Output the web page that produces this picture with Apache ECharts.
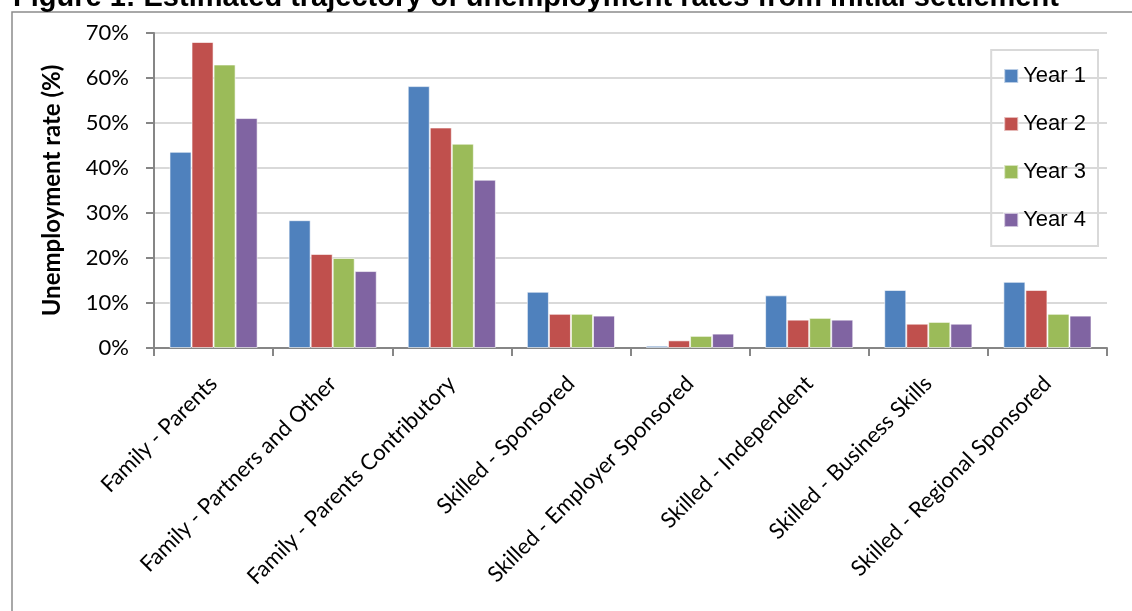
<!DOCTYPE html>
<html>
<head>
<meta charset="utf-8">
<script src="https://cdn.jsdelivr.net/npm/echarts@6/dist/echarts.min.js"></script>
<style>
html, body { margin: 0; padding: 0; background: #fff; }
#chart { width: 1132px; height: 611px; }
</style>
</head>
<body>
<div id="chart"></div>
<script>
// categories and values (%)
var categories = ['Family - Parents', 'Family - Partners and Other', 'Family - Parents Contributory',
  'Skilled - Sponsored', 'Skilled - Employer Sponsored', 'Skilled - Independent',
  'Skilled - Business Skills', 'Skilled - Regional Sponsored'];
var year1 = [43.6, 28.4, 58.2, 12.5, 0.5, 11.7, 12.9, 14.7];
var year2 = [68.0, 20.9, 49.0, 7.6, 1.7, 6.3, 5.4, 12.9];
var year3 = [63.0, 20.0, 45.4, 7.6, 2.7, 6.7, 5.8, 7.6];
var year4 = [51.1, 17.1, 37.4, 7.2, 3.2, 6.3, 5.4, 7.2];
var seriesNames = ['Year 1', 'Year 2', 'Year 3', 'Year 4'];
var colors = ['#4F81BD', '#C0504D', '#9BBB59', '#8064A2'];

var chart = echarts.init(document.getElementById('chart'));

var allData = [year1, year2, year3, year4];
var series = allData.map(function (d, i) {
  return {
    name: seriesNames[i],
    type: 'bar',
    data: d,
    barGap: '0%',
    barCategoryGap: '26%',
    itemStyle: { color: colors[i], borderColor: 'rgba(255,255,255,0.6)', borderWidth: 1 }
  };
});

var option = {
  animation: false,
  title: {
    text: 'Figure 1: Estimated trajectory of unemployment rates from initial settlement',
    left: 8,
    top: -22,
    textStyle: { fontFamily: 'Liberation Sans', fontWeight: 'bold', fontSize: 29, color: '#000' }
  },
  graphic: [{
    type: 'rect',
    shape: { x: 12, y: 12, width: 1200, height: 700 },
    style: { fill: 'none', stroke: '#8c8c8c', lineWidth: 1.5 },
    silent: true,
    z: -1
  }],
  legend: {
    orient: 'vertical',
    right: 34,
    top: 50,
    itemWidth: 14,
    itemHeight: 14,
    itemGap: 26,
    padding: [15, 12, 15, 12],
    borderColor: '#d9d9d9',
    borderWidth: 2,
    icon: 'rect',
    textStyle: { fontFamily: 'Liberation Sans', fontSize: 22, color: '#000' },
    data: seriesNames
  },
  grid: { left: 154, right: 25, top: 33, bottom: 263 },
  xAxis: {
    type: 'category',
    data: categories,
    axisLine: { lineStyle: { color: '#868686', width: 2 } },
    axisTick: { show: true, length: 8, lineStyle: { color: '#868686', width: 2 } },
    axisLabel: {
      rotate: 45,
      interval: 0,
      margin: 32,
      fontFamily: 'Lato',
      fontSize: 22,
      color: '#000'
    }
  },
  yAxis: {
    type: 'value',
    min: 0,
    max: 70,
    interval: 10,
    name: 'Unemployment rate (%)',
    nameLocation: 'middle',
    nameGap: 90,
    nameTextStyle: { fontFamily: 'Lato', fontWeight: 'bold', fontSize: 24, color: '#000' },
    axisLine: { show: true, lineStyle: { color: '#868686', width: 2 } },
    axisTick: { show: true, length: 8, lineStyle: { color: '#868686', width: 2 } },
    axisLabel: {
      formatter: '{value}%',
      margin: 25,
      fontFamily: 'Lato',
      fontSize: 22,
      color: '#000'
    },
    splitLine: { lineStyle: { color: '#d9d9d9', width: 2 } }
  },
  series: series
};

chart.setOption(option);
</script>
</body>
</html>
